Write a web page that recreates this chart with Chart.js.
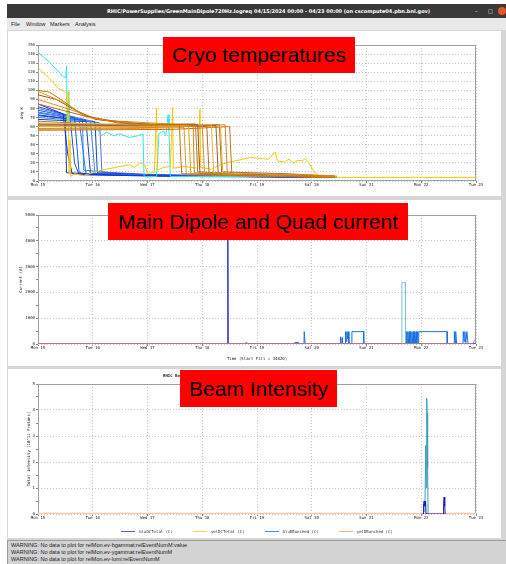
<!DOCTYPE html>
<html>
<head>
<meta charset="utf-8">
<script src="https://cdn.jsdelivr.net/npm/chart.js@4.4.1/dist/chart.umd.min.js"></script>
<style>
  body { margin: 0; width: 506px; height: 564px; overflow: hidden; background: #fff; position: relative; font-family: "Liberation Sans", Arial, sans-serif; }
  .abs { position: absolute; }
  #win { left: 7px; top: 4px; width: 499px; height: 560px; background: #d6d6d6; }
  #titlebar { left: 7px; top: 4px; width: 499px; height: 14px; background: #393939; color: #fff; font: bold 5px "DejaVu Sans", sans-serif; line-height: 14px; }
  #menubar { left: 7px; top: 18px; width: 499px; height: 12px; background: #e9e9e9; font-size: 5.5px; line-height: 12px; color: #222; }
  #menubar span { position: absolute; }
  .panel { background: #fff; left: 8px; width: 493px; }
  .red { background: #ff0000; color: #000; font-size: 21px; text-align: center; z-index: 5; }
  #warn { left: 7px; top: 540px; width: 499px; height: 24px; background: #d3d3d3; border-top: 1px solid #9a9a9a; border-left: 1px solid #9a9a9a; font-size: 5.5px; line-height: 7px; color: #222; padding: 1px 0 0 3px; box-sizing: border-box; }
  #legend { left: 0; top: 529px; width: 514px; display: flex; justify-content: center; font: 4px "DejaVu Sans Mono", monospace; color: #333; }
  #legend .item { display: flex; align-items: center; margin: 0 10px; }
  #legend .swatch { width: 14px; height: 1px; margin-right: 4px; }
</style>
</head>
<body>
<div id="win" class="abs"></div>
<div id="titlebar" class="abs">
  <span class="abs" style="left:100px">RHIC/PowerSupplies/GreenMainDipole720Hz.logreq</span>
  <span class="abs" style="left:247px">04/15/2024 00:00 - 04/23 00:00 (on cscompute04.pbn.bnl.gov)</span>
  <span class="abs" style="left:468px;font-weight:normal">&ndash;</span>
  <span class="abs" style="left:481px;font-weight:normal">&#9633;</span>
  <span class="abs" style="left:491px;top:3px;width:8px;height:8px;border-radius:4px;background:#e95420"></span>
</div>
<div id="menubar" class="abs">
  <span style="left:4px">File</span>
  <span style="left:19px">Window</span>
  <span style="left:43px">Markers</span>
  <span style="left:68px">Analysis</span>
</div>

<div class="abs panel" style="top:31px;height:165px"><canvas id="cryo" width="493" height="165"></canvas></div>
<div class="abs panel" style="top:200px;height:166px"><canvas id="current" width="493" height="166"></canvas></div>
<div class="abs panel" style="top:369px;height:169px"><canvas id="beam" width="493" height="169"></canvas></div>

<div class="abs" style="left:163px;top:373px;font:bold 4px 'DejaVu Sans Mono',monospace;color:#222">RHIC Beam Intensity</div>

<div class="abs red" style="left:163px;top:37px;width:192px;height:36px;line-height:36px">Cryo temperatures</div>
<div class="abs red" style="left:108px;top:203px;width:300px;height:37px;line-height:37px">Main Dipole and Quad current</div>
<div class="abs red" style="left:180px;top:370px;width:157px;height:37px;line-height:37px">Beam Intensity</div>

<div id="legend" class="abs"></div>

<div id="warn" class="abs">
  <div>WARNING: No data to plot for relMon.ev-bgammat:relEventNumM:value</div>
  <div>WARNING: No data to plot for relMon.ev-ygammat:relEventNumM</div>
  <div>WARNING: No data to plot for relMon.ev-lumi:relEventNumM</div>
</div>

<script>
// hours since Mon 15 00:00
const tickHours = [0, 24, 48, 72, 96, 120, 144, 168, 192];
const dayLabels = ['Mon 15', 'Tue 16', 'Wed 17', 'Thu 18', 'Fri 19', 'Sat 20', 'Sun 21', 'Mon 22', 'Tue 23'];

// --- Cryo temperatures (deg K) ---
const cryoOrange = [
  [[0,100],[5,98],[10,90],[20,72],[40,63],[62,62],[62.5,30],[63,8],[90,6],[130,4]],
  [[0,99],[10,88],[22,70],[45,62],[66,61],[67,8],[100,6],[130,5]],
  [[0,95],[8,90],[15,80],[25,68],[50,62],[70,62],[71,8],[130,5]],
  [[0,90],[15,78],[28,67],[72,61],[73,8],[130,4]],
  [[0,85],[20,72],[35,64],[74,60],[75,7],[130,5]],
  [[0,64],[30,63],[76,62],[77,9],[130,5]],
  [[0,62],[40,61],[78,61],[79,8],[130,4]],
  [[0,60],[40,60],[80,60],[81,7],[130,5]],
  [[0,58],[50,59],[82,62],[83,8],[130,5]],
  [[0,56],[60,57],[84,60],[85,6],[130,4]],
  [[0,66],[30,62],[69,63],[70,10],[130,5]],
  [[0,57],[45,58],[64,59],[65,7],[130,4]],
  [[0,61],[35,60],[68,61],[68.5,9],[130,6]],
  [[0,63],[25,62],[79.5,62],[80.5,10],[110,8],[130,5]]
];
const cryoOrangeColors = ['#c07010', '#e0a000', '#a85020', '#d89020', '#b86a30', '#e8b040', '#9c5a2a',
  '#f0b020', '#c88040', '#d07000', '#b07840', '#e09830', '#cc8a18', '#a86a38'];

const cryoYellow = [[0,125],[5,113],[9,102],[11,100],[12.5,96],[13,60],[13.3,100],[13.6,8],[14,45],[14.3,5],
  [16,8],[20,6],[25,10],[28,12],[32,14],[36,16],[40,18],[42,15],[45,20],[47,17],[48,8],[51,10],[52,80],[52.3,12],
  [55,15],[58,16],[59,81],[59.3,14],[64,16],[70,14],[71,79],[71.3,15],[76,13],[80,18],[84,21],[88,23],[93,26],
  [97,25],[101,24],[104,32],[105,22],[108,21],[110,24],[112,20],[114,23],[116,22],[117,25],[119,19],[121,10],
  [123,6],[125,4],[192,4]];

const cryoCyan = [[0,142],[5,131],[10,118],[11,115],[12.2,114],[12.5,127],[12.8,62],[13.5,100],[14,62],[18,60],
  [22,58],[26,57],[28,50],[30,54],[33,50],[36,52],[40,48],[44,50],[46,52],[46.5,5],[52,5],[53,52],[55,55],[56,50],
  [57,73],[57.4,56],[58,5],[131,5]];

const cryoBlue = [
  [[0,85],[11,74],[13,30],[15,8],[40,6],[131,4]],
  [[0,82],[14,72],[16,20],[18,7],[60,5],[131,4]],
  [[0,78],[16,70],[18,10],[20,7],[70,5],[131,5]],
  [[0,75],[18,68],[21,8],[80,5],[131,5]],
  [[0,72],[21,67],[23,8],[90,5],[131,4]],
  [[0,70],[23,66],[25,7],[100,5],[131,5]],
  [[0,68],[25,65],[26,9],[60,6],[131,5]],
  [[0,80],[27,64],[28,10],[50,7],[131,5]],
  [[0,76],[19.5,68],[20,12],[45,6],[131,4]],
  [[0,73],[12,69],[12.5,9],[50,6],[131,5]]
];
const cryoBlueColors = ['#1030e0', '#2050d0', '#0a60e8', '#3070f0', '#1a40b8', '#4080e8', '#0050c0', '#5a6ae0', '#2a90f0', '#1838c8'];

// --- Main dipole / quad current (A) ---
const currentDipole = [[0,0],[83.0,0],[83.15,5000],[83.25,5000],[83.4,0],[192,0]];
const currentQuad = [[91,0],[91.1,50],[91.4,50],[91.5,0],[112.5,0],[112.6,60],[114,60],[114.1,0],[116.6,0],
  [116.7,480],[117,480],[117.1,0],[132.4,0],[132.5,280],[132.8,0],[133.2,0],[133.3,240],[133.5,0],[134.6,0],
  [134.7,300],[134.9,480],[135.1,100],[135.4,480],[135.7,200],[136,480],[136.3,0],[137.5,0],[137.6,480],
  [142.7,480],[142.8,0],[161.4,0],[161.5,480],[161.8,0],[162.1,480],[162.4,0],[162.7,480],[163,0],[163.3,480],
  [163.6,0],[163.9,480],[164.2,0],[164.5,480],[164.8,0],[165.1,480],[165.4,0],[165.7,480],[166,0],[166.3,480],
  [166.6,0],[166.9,480],[179.3,480],[179.4,20],[182.4,20],[182.5,480],[182.8,50],[183.1,480],[183.5,20],
  [186.3,20],[186.4,480],[186.8,100],[187.1,480],[187.5,50],[188,480],[188.5,20],[192,20]];
const currentTeal = [[159.4,0],[159.5,2380],[161,2380],[161.1,0]];
const currentRed = [[0,10],[190.5,10],[191.2,120],[192,230]];

// --- Beam intensity (10^11 protons) ---
const beamSeries = ['bluDCTotal (C)', 'yelDCTotal (C)', 'bluDBunched (C)', 'yelDBunched (C)'];
const beamColors = ['#5a5af0', '#f0d040', '#3c9cbc', '#ffb070'];
const bluDCTotal = [[168.8,0],[169,0.4],[169.3,0.5],[169.6,0.3],[169.9,0.5],[170.1,0],[177.6,0],[177.8,0.4],
  [178,0.65],[178.3,0.3],[178.5,0]];
const yelDCTotal = [[0,0],[192,0]];
const bluDBunched = [[168.5,0],[169.3,0.1],[169.6,0.3],[170,2.65],[170.2,1.0],[170.4,4.45],[170.6,3.9],
  [170.8,1.76],[171,0]];
const yelDBunched = [[0,0],[192,0]];

const font = { family: 'DejaVu Sans Mono', size: 4 };

const frame = {
  id: 'frame',
  beforeDatasetsDraw(chart) {
    const a = chart.chartArea, ctx = chart.ctx;
    ctx.save();
    ctx.strokeStyle = '#a0a0a0';
    ctx.lineWidth = 1;
    ctx.strokeRect(a.left + 0.5, a.top + 0.5, a.width - 1, a.height - 1);
    ctx.restore();
  }
};

function line(data, color, width) {
  return { data, borderColor: color, backgroundColor: color, borderWidth: width || 1, pointRadius: 0, tension: 0, fill: false };
}

function makeChart(id, datasets, cfg) {
  const ctx = document.getElementById(id);
  return new Chart(ctx, {
    type: 'line',
    data: { datasets },
    plugins: [frame],
    options: {
      responsive: false,
      animation: false,
      devicePixelRatio: 1,
      layout: { padding: { left: 0, right: 25, top: cfg.top, bottom: 0 } },
      plugins: { legend: { display: false }, tooltip: { enabled: false } },
      scales: {
        x: {
          type: 'linear', min: 0, max: 192,
          afterBuildTicks: s => { s.ticks = tickHours.map(v => ({ value: v })); },
          afterFit: s => { s.height = cfg.xh; },
          ticks: { font, color: '#222', padding: 0, maxRotation: 0, autoSkip: false,
            callback: v => dayLabels[tickHours.indexOf(v)] },
          grid: { color: '#c4c4c4', tickLength: 2, tickColor: '#888' },
          border: { display: false, dash: [1, 2] },
          title: { display: !!cfg.xTitle, text: cfg.xTitle || '', font, color: '#222', padding: { top: 0, bottom: 5 } }
        },
        y: {
          min: 0, max: cfg.yMax,
          afterFit: s => { s.width = 30; },
          ticks: { font, color: '#222', padding: 1, stepSize: cfg.yStep,
            callback: v => (Math.abs(v / cfg.yMajor - Math.round(v / cfg.yMajor)) < 1e-6 ? v : '') },
          grid: { tickLength: 2, tickColor: '#888',
            color: c => (Math.abs(c.tick.value / cfg.yMajor - Math.round(c.tick.value / cfg.yMajor)) < 1e-6 ? '#c4c4c4' : 'rgba(0,0,0,0)') },
          border: { display: false, dash: [1, 2] },
          title: { display: true, text: cfg.yTitle, font, color: '#222', padding: { top: cfg.yTitlePad, bottom: 0 } }
        }
      }
    }
  });
}

// cryo: orange band on top, then yellow, cyan, blue underneath
const cryoSets = [];
cryoOrange.forEach((d, i) => cryoSets.push(line(d, cryoOrangeColors[i])));
cryoSets.push(line(cryoYellow, '#f5c800'));
cryoSets.push(line(cryoCyan, '#2ee6f0'));
cryoBlue.forEach((d, i) => cryoSets.push(line(d, cryoBlueColors[i])));
makeChart('cryo', cryoSets, { top: 14, xh: 15, yMax: 150, yStep: 5, yMajor: 10, yTitle: 'deg K', yTitlePad: 12 });

makeChart('current', [
  line(currentRed, '#d87878'),
  line(currentTeal, '#7cc0d8'),
  line(currentQuad, '#1a70e0'),
  line(currentDipole, '#2a30c8')
], { top: 15, xh: 22, yMax: 5000, yStep: 500, yMajor: 1000, yTitle: 'Current (A)', yTitlePad: 10.5,
  xTitle: 'Time (Start Fill = 34820)' });

makeChart('beam', [
  line(bluDCTotal, '#1c1cb0'),
  line(bluDBunched, beamColors[2]),
  line(yelDBunched, '#ffc8a0', 2.5),
  line(yelDCTotal, beamColors[1])
], { top: 15, xh: 24, yMax: 5, yStep: 0.5, yMajor: 1, yTitle: 'Total intensity [10^11 Protons]', yTitlePad: 18.8 });

// legend row under the beam chart
document.getElementById('legend').innerHTML = beamSeries.map((name, i) =>
  `<span class="item"><span class="swatch" style="background:${beamColors[i]}"></span>${name}</span>`).join('');
</script>
</body>
</html>
